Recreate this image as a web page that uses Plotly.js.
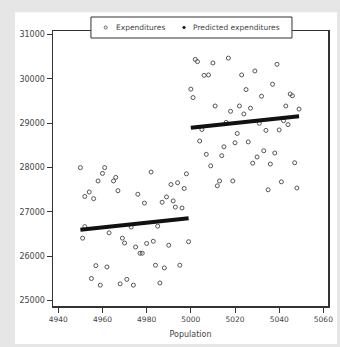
<!DOCTYPE html>
<html>
<head>
<meta charset="utf-8">
<script src="https://cdn.plot.ly/plotly-3.0.1.min.js"></script>
<style>html,body{margin:0;padding:0;background:#e6e6e6;}#chart{width:340px;height:347px;}</style>
</head>
<body>
<div id="chart"></div>
<script>
// Observed data: population and expenditures
const population = [
  4950,4952,4954,4956,4958,4960,4961,4965,4966,4967,4976,4979,4982,4987,4989,4991,4992,4993,4994,4996,4997,4998,
  4952,4963,4973,4985,4951,4969,4970,4975,4980,4983,4990,4999,4977,4978,4957,4962,4984,4988,4995,4955,4959,4968,4971,4974,4986,
  5002,5003,5010,5017,5039,5006,5008,5023,5029,5000,5001,5025,5037,5032,5045,5046,5011,5022,5027,5018,5024,5043,5049,
  5016,5031,5042,5044,5005,5034,5040,5021,5004,5020,5026,5015,5007,5014,5033,5038,5030,5028,5036,5047,5009,5013,5019,5012,5041,5035,5048
];
const expenditures = [
  28000,27350,27450,27300,27700,27870,28000,27700,27780,27480,27400,27200,27900,27220,27340,27620,27250,27110,27660,27090,27530,27860,
  26670,26530,26660,26680,26410,26410,26300,26210,26290,26340,26250,26330,26070,26070,25790,25760,25800,25740,25800,25500,25350,25380,25480,25350,25400,
  30440,30390,30360,30470,30330,30080,30090,30090,30180,29770,29580,29760,29880,29610,29660,29620,29390,29390,29340,29270,29210,29390,29320,
  29020,29000,29060,28970,28860,28840,28850,28770,28600,28560,28580,28470,28300,28270,28380,28330,28240,28100,28080,28110,28040,27700,27700,27590,27680,27500,27540
];
// Predicted expenditures (ends of the two fitted pieces)
const predPopulation = [4950, 4999, null, 5000, 5049];
const predExpenditures = [26600, 26860, null, 28900, 29160];

const xTicks = [4940, 4960, 4980, 5000, 5020, 5040, 5060];
const yTicks = [25000, 26000, 27000, 28000, 29000, 30000, 31000];
const legendLabels = ['Expenditures', 'Predicted expenditures'];

const txt = '#444';
const axisCol = '#333';

const traces = [
  {
    type: 'scatter', mode: 'markers', name: legendLabels[0],
    x: population, y: expenditures,
    marker: {symbol: 'circle-open', size: 4, color: '#555', line: {width: 1, color: '#555'}}
  },
  {
    type: 'scatter', mode: 'lines', name: legendLabels[1],
    x: predPopulation, y: predExpenditures,
    line: {color: '#111', width: 4}, connectgaps: false
  }
];

// legend drawn as a boxed key in paper coordinates
const L = {x0: 0.138, x1: 0.869, y0: 0.9745, y1: 1.0509, yc: 1.0127};
const legFont = {family: 'DejaVu Sans', size: 7.5, color: txt};
const rHollow = 0.0055, rFilled = 0.0048;

const layout = {
  width: 340, height: 347,
  margin: {l: 53, r: 12, t: 31, b: 41},
  paper_bgcolor: '#e6e6e6',
  plot_bgcolor: '#ffffff',
  font: {family: 'DejaVu Sans', size: 8, color: txt},
  showlegend: false,
  xaxis: {
    range: [4937.6, 5062.1],
    tickmode: 'array', tickvals: xTicks, ticktext: xTicks.map(String),
    ticks: 'outside', ticklen: 5, tickwidth: 1, tickcolor: axisCol,
    showline: true, linecolor: axisCol, linewidth: 1.5, mirror: true,
    showgrid: false, zeroline: false,
    tickfont: {family: 'DejaVu Sans', size: 7.5, color: txt},
    title: {text: 'Population', font: {family: 'DejaVu Sans', size: 8, color: txt}, standoff: 9}
  },
  yaxis: {
    range: [24880, 31081],
    tickmode: 'array', tickvals: yTicks, ticktext: yTicks.map(String),
    ticks: 'outside', ticklen: 5, tickwidth: 1, tickcolor: axisCol,
    showline: true, linecolor: axisCol, linewidth: 1.5, mirror: true,
    showgrid: false, zeroline: false,
    tickfont: {family: 'DejaVu Sans', size: 8, color: txt}
  },
  shapes: [
    {type: 'rect', xref: 'paper', yref: 'paper', layer: 'below',
     x0: -0.138, x1: 1.033, y0: -0.138, y1: 1.068,
     fillcolor: '#ffffff', line: {width: 0}},
    {type: 'rect', xref: 'paper', yref: 'paper', layer: 'above',
     x0: L.x0, x1: L.x1, y0: L.y0, y1: L.y1,
     fillcolor: '#ffffff', line: {width: 1, color: axisCol}},
    {type: 'circle', xref: 'paper', yref: 'paper', layer: 'above',
     x0: 0.1916 - rHollow, x1: 0.1916 + rHollow, y0: L.yc - rHollow, y1: L.yc + rHollow,
     fillcolor: 'rgba(0,0,0,0)', line: {width: 0.9, color: '#555'}},
    {type: 'circle', xref: 'paper', yref: 'paper', layer: 'above',
     x0: 0.4764 - rFilled, x1: 0.4764 + rFilled, y0: L.yc - rFilled, y1: L.yc + rFilled,
     fillcolor: '#111', line: {width: 0.5, color: '#111'}}
  ],
  annotations: [
    {xref: 'paper', yref: 'paper', x: 0.2200, y: L.yc, xanchor: 'left', yanchor: 'middle',
     text: legendLabels[0], showarrow: false, font: legFont},
    {xref: 'paper', yref: 'paper', x: 0.5010, y: L.yc, xanchor: 'left', yanchor: 'middle',
     text: legendLabels[1], showarrow: false, font: legFont}
  ]
};

Plotly.newPlot('chart', traces, layout, {staticPlot: true, displayModeBar: false});
</script>
</body>
</html>
